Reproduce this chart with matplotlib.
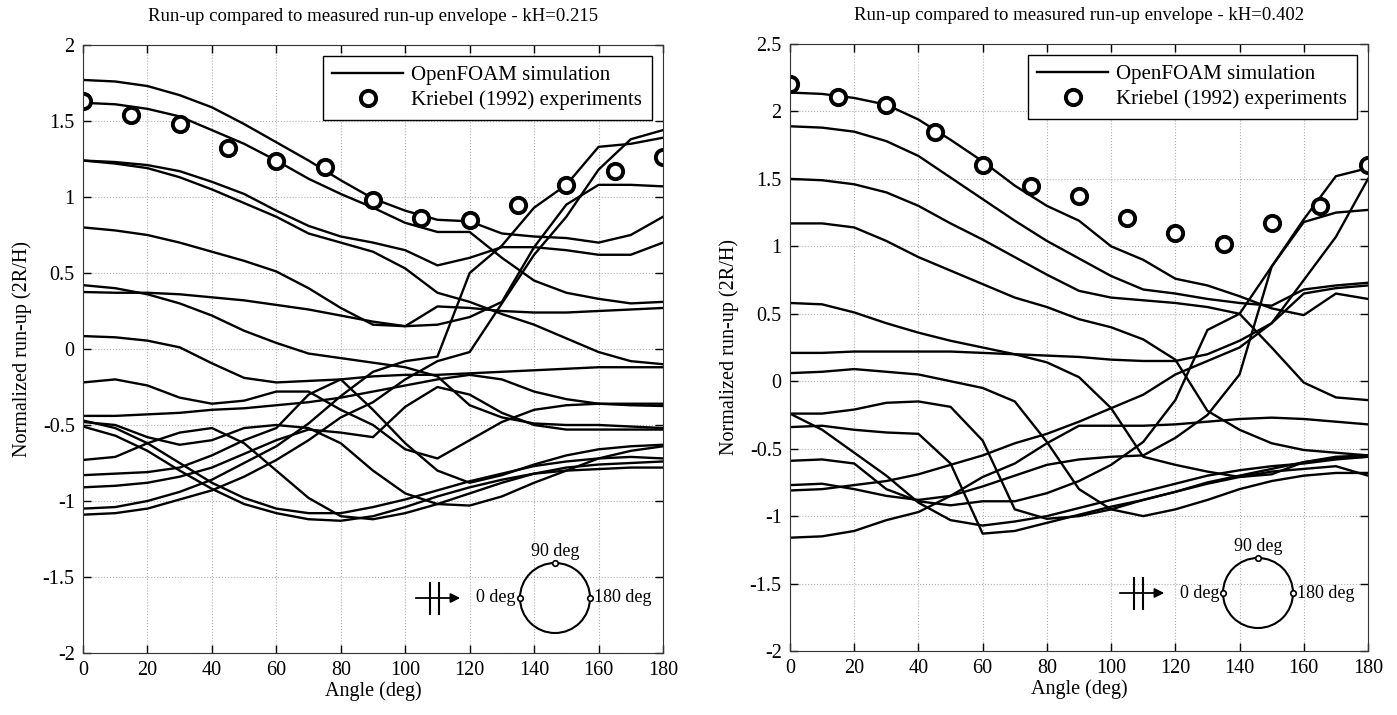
import numpy as np
import matplotlib
matplotlib.use("Agg")
import matplotlib.pyplot as plt
from matplotlib.patches import Circle

plt.rcParams['font.family'] = ['Liberation Serif', 'DejaVu Serif']

angles = np.arange(0, 181, 10)
exp_angles = np.arange(0, 181, 15)

# kH = 0.215
exp_215 = [1.63, 1.54, 1.48, 1.32, 1.24, 1.20, 0.98, 0.86, 0.85, 0.95, 1.08, 1.17, 1.26]
sim_215 = [
    [1.77, 1.76, 1.73, 1.67, 1.59, 1.48, 1.36, 1.24, 1.11, 0.99, 0.91, 0.85, 0.84, 0.76, 0.74, 0.73, 0.70, 0.75, 0.87],
    [1.62, 1.61, 1.58, 1.53, 1.44, 1.35, 1.24, 1.12, 1.02, 0.93, 0.83, 0.77, 0.77, 0.60, 0.45, 0.37, 0.33, 0.30, 0.31],
    [1.24, 1.23, 1.21, 1.17, 1.10, 1.02, 0.91, 0.81, 0.74, 0.70, 0.65, 0.55, 0.60, 0.67, 0.67, 0.65, 0.62, 0.62, 0.70],
    [1.24, 1.22, 1.19, 1.13, 1.05, 0.96, 0.87, 0.76, 0.70, 0.64, 0.53, 0.37, 0.31, 0.23, 0.16, 0.07, -0.02, -0.08, -0.10],
    [0.80, 0.78, 0.75, 0.70, 0.64, 0.58, 0.51, 0.40, 0.27, 0.16, 0.15, 0.28, 0.27, 0.25, 0.24, 0.24, 0.25, 0.26, 0.27],
    [0.375, 0.37, 0.37, 0.36, 0.34, 0.32, 0.29, 0.26, 0.22, 0.18, 0.15, 0.16, 0.21, 0.31, 0.67, 0.95, 1.08, 1.08, 1.07],
    [0.42, 0.40, 0.36, 0.30, 0.22, 0.12, 0.04, -0.03, -0.06, -0.09, -0.12, -0.18, -0.37, -0.45, -0.49, -0.50, -0.50, -0.51, -0.52],
    [0.085, 0.077, 0.055, 0.011, -0.094, -0.19, -0.22, -0.21, -0.20, -0.18, -0.17, -0.17, -0.16, -0.15, -0.14, -0.13, -0.12, -0.12, -0.12],
    [-0.22, -0.20, -0.24, -0.32, -0.36, -0.34, -0.28, -0.28, -0.40, -0.50, -0.66, -0.72, -0.60, -0.48, -0.40, -0.37, -0.36, -0.36, -0.36],
    [-0.44, -0.44, -0.43, -0.42, -0.40, -0.39, -0.37, -0.35, -0.32, -0.28, -0.24, -0.20, -0.17, -0.20, -0.28, -0.33, -0.36, -0.37, -0.375],
    [-0.47, -0.52, -0.62, -0.75, -0.88, -0.98, -1.05, -1.08, -1.08, -1.04, -0.99, -0.93, -0.87, -0.82, -0.77, -0.74, -0.72, -0.71, -0.72],
    [-0.48, -0.50, -0.58, -0.63, -0.60, -0.52, -0.50, -0.52, -0.62, -0.80, -0.95, -1.02, -1.03, -0.97, -0.88, -0.80, -0.72, -0.67, -0.64],
    [-0.51, -0.57, -0.67, -0.80, -0.92, -1.02, -1.08, -1.12, -1.13, -1.10, -1.04, -0.97, -0.91, -0.86, -0.82, -0.80, -0.79, -0.78, -0.78],
    [-0.73, -0.71, -0.62, -0.55, -0.52, -0.62, -0.80, -0.98, -1.10, -1.12, -1.08, -1.02, -0.95, -0.88, -0.82, -0.78, -0.76, -0.75, -0.74],
    [-0.83, -0.82, -0.81, -0.78, -0.70, -0.60, -0.52, -0.30, -0.20, -0.40, -0.62, -0.80, -0.88, -0.83, -0.76, -0.70, -0.66, -0.64, -0.63],
    [-0.91, -0.90, -0.88, -0.84, -0.78, -0.69, -0.60, -0.53, -0.55, -0.58, -0.38, -0.25, -0.30, -0.42, -0.50, -0.53, -0.53, -0.53, -0.53],
    [-1.05, -1.04, -1.00, -0.94, -0.86, -0.75, -0.64, -0.49, -0.31, -0.15, -0.08, -0.05, 0.50, 0.68, 0.93, 1.08, 1.33, 1.35, 1.39],
    [-1.09, -1.08, -1.05, -0.99, -0.93, -0.84, -0.73, -0.60, -0.45, -0.35, -0.20, -0.08, -0.02, 0.30, 0.62, 0.87, 1.18, 1.38, 1.44],
]

# kH = 0.402
exp_402 = [2.20, 2.11, 2.05, 1.85, 1.60, 1.45, 1.37, 1.21, 1.10, 1.02, 1.17, 1.30, 1.60]
sim_402 = [
    [2.14, 2.13, 2.10, 2.05, 1.94, 1.79, 1.63, 1.45, 1.30, 1.19, 1.00, 0.90, 0.76, 0.71, 0.63, 0.54, 0.49, 0.65, 0.61],
    [1.89, 1.88, 1.85, 1.78, 1.67, 1.51, 1.35, 1.19, 1.04, 0.91, 0.78, 0.68, 0.65, 0.61, 0.58, 0.56, 0.68, 0.71, 0.73],
    [1.50, 1.49, 1.46, 1.40, 1.30, 1.17, 1.05, 0.92, 0.79, 0.67, 0.62, 0.60, 0.58, 0.55, 0.50, 0.25, -0.01, -0.12, -0.14],
    [1.17, 1.17, 1.14, 1.04, 0.92, 0.82, 0.72, 0.62, 0.55, 0.46, 0.40, 0.31, 0.16, -0.22, -0.36, -0.46, -0.51, -0.53, -0.55],
    [0.58, 0.57, 0.51, 0.43, 0.36, 0.30, 0.25, 0.20, 0.14, 0.03, -0.20, -0.56, -0.62, -0.67, -0.71, -0.69, -0.60, -0.56, -0.55],
    [0.21, 0.21, 0.22, 0.22, 0.22, 0.22, 0.21, 0.20, 0.19, 0.18, 0.16, 0.15, 0.15, 0.20, 0.30, 0.43, 0.65, 0.69, 0.71],
    [0.06, 0.07, 0.09, 0.07, 0.05, 0.00, -0.05, -0.15, -0.45, -0.80, -0.95, -1.00, -0.95, -0.88, -0.80, -0.74, -0.70, -0.68, -0.68],
    [-0.24, -0.24, -0.21, -0.16, -0.15, -0.19, -0.44, -0.95, -1.02, -1.00, -0.95, -0.88, -0.82, -0.75, -0.70, -0.65, -0.60, -0.57, -0.56],
    [-0.24, -0.36, -0.53, -0.70, -0.90, -1.03, -1.07, -1.04, -1.00, -0.94, -0.88, -0.82, -0.76, -0.70, -0.66, -0.63, -0.61, -0.58, -0.56],
    [-0.34, -0.33, -0.36, -0.38, -0.39, -0.61, -1.13, -1.11, -1.05, -0.99, -0.93, -0.88, -0.82, -0.76, -0.71, -0.67, -0.65, -0.63, -0.70],
    [-0.59, -0.58, -0.61, -0.80, -0.89, -0.92, -0.89, -0.89, -0.83, -0.74, -0.62, -0.45, -0.14, 0.38, 0.50, 0.85, 1.18, 1.25, 1.27],
    [-0.77, -0.76, -0.80, -0.85, -0.88, -0.85, -0.78, -0.70, -0.62, -0.58, -0.56, -0.55, -0.42, -0.25, 0.05, 0.85, 1.20, 1.52, 1.58],
    [-0.81, -0.80, -0.77, -0.74, -0.69, -0.62, -0.55, -0.46, -0.39, -0.30, -0.20, -0.10, 0.05, 0.15, 0.25, 0.43, 0.75, 1.07, 1.50],
    [-1.16, -1.15, -1.11, -1.03, -0.97, -0.85, -0.71, -0.61, -0.46, -0.33, -0.33, -0.33, -0.32, -0.30, -0.28, -0.27, -0.28, -0.30, -0.32],
]

panels = [
    (sim_215, exp_215, 'Run-up compared to measured run-up envelope - kH=0.215', (-2, 2), np.arange(-2, 2.01, 0.5)),
    (sim_402, exp_402, 'Run-up compared to measured run-up envelope - kH=0.402', (-2, 2.5), np.arange(-2, 2.51, 0.5)),
]

fig = plt.figure(figsize=(13.97, 7.15), dpi=100)
rects = [[83/1397, 1-653/715, 580/1397, 608/715], [790/1397, 1-651/715, 578/1397, 607/715]]

for rect, (sims, exps, title, ylim, yticks) in zip(rects, panels):
    ax = fig.add_axes(rect)
    for i, s in enumerate(sims):
        ax.plot(angles, s, color='black', lw=1.7,
                label='OpenFOAM simulation' if i == 0 else None)
    ax.plot(exp_angles, exps, 'o', mfc='white', mec='black', mew=2.8, ms=11,
            label='Kriebel (1992) experiments')
    ax.set_xlim(0, 180)
    ax.set_ylim(*ylim)
    ax.set_xticks(np.arange(0, 181, 20))
    ax.set_yticks(yticks)
    ax.set_yticklabels(['%g' % t for t in yticks])
    ax.grid(True, ls=':', color='#b0b0b0', lw=0.8)
    ax.tick_params(direction='in', top=True, right=True, labelsize=14.5, length=6, width=1)
    ax.tick_params(axis='x', pad=6)
    ax.tick_params(axis='y', pad=6)
    for sp in ax.spines.values():
        sp.set_color('#333333')
    ax.set_xlabel('Angle (deg)', fontsize=14.5, labelpad=1)
    ax.set_ylabel('Normalized run-up (2R/H)', fontsize=14.5, labelpad=8)
    ax.set_title(title, fontsize=13.5, pad=17)
    leg = ax.legend(loc='upper right', fontsize=15, fancybox=False, framealpha=1,
                    edgecolor='black', borderaxespad=0.55, handlelength=3.4,
                    handletextpad=0.4, borderpad=0.45, labelspacing=0.25)
    leg.get_frame().set_linewidth(1.0)

# inset sketches (pixel coordinates of the figure)
ov = fig.add_axes([0, 0, 1, 1])
ov.set_xlim(0, 1397)
ov.set_ylim(715, 0)
ov.axis('off')
for cx, cy, ax0 in [(555, 598, 413), (1258, 593, 1117)]:
    ov.add_patch(Circle((cx, cy), 35, fill=False, ec='black', lw=1.5))
    for px, py in [(cx-35, cy), (cx+35, cy), (cx, cy-35)]:
        ov.plot(px, py, 'o', ms=4, mfc='white', mec='black', mew=1.2)
    ov.annotate('', xy=(ax0+50, cy), xytext=(ax0, cy),
                arrowprops=dict(arrowstyle='-|>', color='black', lw=1.3, mutation_scale=14))
    ov.plot([ax0+17, ax0+17], [cy-15, cy+16], color='black', lw=1.5)
    ov.plot([ax0+26, ax0+26], [cy-15, cy+16], color='black', lw=1.5)
    ov.text(cx-39, cy, '0 deg', ha='right', va='center', fontsize=13)
    ov.text(cx+39, cy, '180 deg', ha='left', va='center', fontsize=13)
    ov.text(cx, cy-38, '90 deg', ha='center', va='bottom', fontsize=13)

fig.savefig('out.png', dpi=100)
